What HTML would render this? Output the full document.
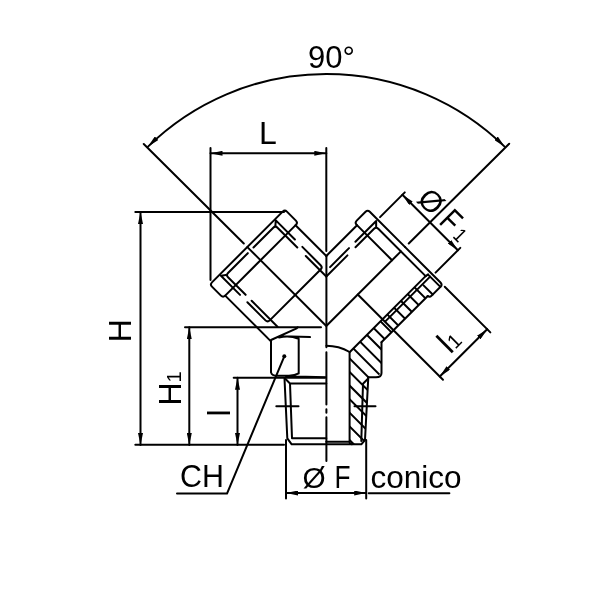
<!DOCTYPE html>
<html><head><meta charset="utf-8">
<style>
html,body{margin:0;padding:0;background:#fff;width:600px;height:600px;overflow:hidden}
svg{display:block;will-change:transform}
text{font-family:"Liberation Sans",sans-serif;fill:#000;stroke:none}
</style></head><body>
<svg width="600" height="600" viewBox="0 0 600 600">
<defs>
<marker id="ar" viewBox="0 0 12 5" refX="12" refY="2.5" markerWidth="12" markerHeight="5" markerUnits="userSpaceOnUse" orient="auto-start-reverse">
<path d="M12,2.5 L0,0 L0,5 Z" fill="#000"/>
</marker>
</defs>
<g fill="none" stroke="#000" stroke-width="2" stroke-linecap="round" stroke-linejoin="round">

<!-- 90 deg arc -->
<path d="M148,146.6 A255.2,255.2 0 0 1 504.6,146.6" marker-start="url(#ar)" marker-end="url(#ar)"/>
<!-- extension lines on arm axes -->
<path d="M143.75,144 L243.8,243.5 M247.4,247.1 L326.3,326 M509.2,143.7 L408.75,243.55 M400.9,251.4 L326.3,326"/>

<!-- L dimension -->
<line x1="210.5" y1="148" x2="210.5" y2="280"/>
<line x1="326.3" y1="148" x2="326.3" y2="251"/>
<line x1="210.5" y1="153.3" x2="326.3" y2="153.3" marker-start="url(#ar)" marker-end="url(#ar)"/>

<!-- H dimension -->
<line x1="135.3" y1="212" x2="284" y2="212"/>
<line x1="135.3" y1="444.8" x2="284" y2="444.8"/>
<line x1="140.5" y1="212" x2="140.5" y2="445" marker-start="url(#ar)" marker-end="url(#ar)"/>
<!-- H1 -->
<line x1="185" y1="327.3" x2="321" y2="327.3"/>
<line x1="189.3" y1="327.3" x2="189.3" y2="445" marker-start="url(#ar)" marker-end="url(#ar)"/>
<!-- l -->
<line x1="233.7" y1="377.7" x2="325" y2="377.7"/>
<line x1="237.5" y1="377.7" x2="237.5" y2="445" marker-start="url(#ar)" marker-end="url(#ar)"/>

<!-- OF dimension -->
<line x1="286" y1="440" x2="286" y2="498.5"/>
<line x1="366.2" y1="440" x2="366.2" y2="498.5"/>
<line x1="286" y1="493" x2="366.2" y2="493" marker-start="url(#ar)" marker-end="url(#ar)"/>
<line x1="368.7" y1="493.2" x2="449.4" y2="493.2"/>

<!-- CH leader -->
<polyline points="177,493.6 227,493.6 284.3,356.3"/>

<!-- LEFT ARM -->
<g transform="translate(326.3,326) rotate(225)">
  <rect x="93" y="-53" width="18.7" height="106" rx="3"/>
  <line x1="93" y1="49.5" x2="49.5" y2="49.5"/>
  <line x1="93" y1="-50" x2="29" y2="-50"/>
  <!-- thread lines -->
  <path d="M107,35 L110,38.5 L111,39 M110,39 L83.4,39 M72.9,39 L47,39 Q44,39 44,36 L44,-36 Q44,-39 47,-39 L72.6,-39 M83,-39 L110,-39 L107,-35"/>
  <path d="M35,35 L64,35 M76,35 L104,35 Q107,35 107,32 L107,4 M107,-4 L107,-32 Q107,-35 104,-35 L79.1,-35 M70.6,-35 L34,-35"/>
</g>

<!-- RIGHT ARM -->
<g transform="translate(326.3,326) rotate(-45)">
  <path d="M111.5,0 L111.5,-50 Q111.5,-53 108.5,-53 L96,-53 Q93,-53 93,-50 L93,0"/>
  <line x1="93" y1="-49.5" x2="49.5" y2="-49.5"/>
  <path d="M105.5,-35 L109.5,-39 L80.2,-39 M71.1,-39 L44.3,-39"/>
  <path d="M35,-35 L64.9,-35 M76.3,-35 L102.5,-35 Q105.5,-35 105.5,-32 L105.5,35"/>
  <!-- section half -->
  <path d="M111.5,0 L111.5,50 Q111.5,53 108.5,53 L96,53 Q93,53 93,50.5"/>
  <path d="M105.5,35 L108.5,35.5 L108.3,36 L108.3,53 M97.5,40 L97.5,53"/>
  <line x1="44.5" y1="0" x2="44.5" y2="120.5"/>
  <line x1="45" y1="38.5" x2="108.3" y2="38.5"/>
  <line x1="27.5" y1="50.5" x2="93" y2="50.5"/>
  <!-- OF1 extension lines -->
  <line x1="115" y1="-39" x2="150" y2="-39"/>
  <line x1="115" y1="39.5" x2="150" y2="39.5"/>
  <line x1="146.6" y1="-39" x2="146.6" y2="39.5" marker-start="url(#ar)" marker-end="url(#ar)"/>
  <!-- l1 ext -->
  <line x1="111.5" y1="56" x2="111.5" y2="120.5"/>
  <line x1="44.5" y1="116" x2="111.5" y2="116" marker-start="url(#ar)" marker-end="url(#ar)"/>
</g>
<g transform="translate(326.3,326) rotate(-45)">
  <text transform="translate(152,-25.6) rotate(90) scale(0.93)" font-size="32">Ø</text><text transform="translate(152,-25.6) rotate(90) translate(31.2,0) scale(0.82,1)" font-size="32">F<tspan font-size="20" dx="5">1</tspan></text>
  <text x="67.4" y="108" font-size="32">l<tspan font-size="20">1</tspan></text>
</g>

<!-- BOTTOM -->
<defs>
<clipPath id="hc1"><polygon points="349.6,352.0 382.9,318.9 393.8,329.9 381.5,342.2 381.5,373.0 376.0,377.3 368.3,377.3 365.0,440.0 361.3,444.0 349.6,444.0"/></clipPath>
<clipPath id="hc2"><polygon points="382.9,318.9 416.8,285.0 427.8,295.9 393.8,329.9"/></clipPath>
</defs>
<!-- centerline -->
<path d="M326.4,255.8 L326.4,347.3 M326.4,352.2 L326.4,404.5 M326.4,409.2 L326.4,412.7 M326.4,417.2 L326.4,461"/>
<!-- hex nut -->
<path d="M271,340 L271,372.5 M298.7,338.8 L298.7,373.4 M271,340 L296.7,328.3 L297.7,327.3 M281.5,336.3 L310,337.1 M279,337.5 Q289,334.8 298.7,338.8 M271,372.5 Q272,375.8 277,375.8 L289,375.8 Q295,375.6 298.7,373.4 M286,376.2 L325.7,377.3"/>
<!-- threaded left (exterior) -->
<path d="M284.5,378.5 L287.3,438.3 L291.7,444.3 L361.3,444.3 L365,440 L368.3,377.3"/>
<path d="M285.5,379 L290,383.5 L326.3,383.5 M290,383.5 L292,438.3 L326.3,438.3 M326.3,441.7 L349.6,441.7"/>
<path d="M367.7,379 L363,383.7 L361.3,441"/>
<line x1="276.3" y1="406.3" x2="298.5" y2="406.3"/>
<line x1="354.5" y1="406.3" x2="375.5" y2="406.3"/>
<!-- bore -->
<path d="M326.4,345.8 A47,47 0 0 1 349.6,352 L349.6,442 Q349.6,444.3 352,444.3"/>
<!-- section outline -->
<path d="M349.6,352.2 L425.6,276.1"/>
<path d="M381.5,342.2 L381.5,373 Q381.5,377.3 376,377.3 L368.3,377.3"/>
<path d="M146.0,250.0L356.0,460.0M159.6,250.0L369.6,460.0M173.2,250.0L383.2,460.0M186.8,250.0L396.8,460.0M200.4,250.0L410.4,460.0M214.0,250.0L424.0,460.0M227.6,250.0L437.6,460.0M241.2,250.0L451.2,460.0M254.8,250.0L464.8,460.0M268.4,250.0L478.4,460.0M282.0,250.0L492.0,460.0M295.6,250.0L505.6,460.0M309.2,250.0L519.2,460.0M322.8,250.0L532.8,460.0M336.4,250.0L546.4,460.0M350.0,250.0L560.0,460.0M363.6,250.0L573.6,460.0M377.2,250.0L587.2,460.0M390.8,250.0L600.8,460.0M404.4,250.0L614.4,460.0" clip-path="url(#hc1)"/>
<path d="M146.0,250.0L356.0,460.0M159.6,250.0L369.6,460.0M173.2,250.0L383.2,460.0M186.8,250.0L396.8,460.0M200.4,250.0L410.4,460.0M214.0,250.0L424.0,460.0M227.6,250.0L437.6,460.0M241.2,250.0L451.2,460.0M254.8,250.0L464.8,460.0M268.4,250.0L478.4,460.0M282.0,250.0L492.0,460.0M295.6,250.0L505.6,460.0M309.2,250.0L519.2,460.0M322.8,250.0L532.8,460.0M336.4,250.0L546.4,460.0M350.0,250.0L560.0,460.0M363.6,250.0L573.6,460.0M377.2,250.0L587.2,460.0M390.8,250.0L600.8,460.0M404.4,250.0L614.4,460.0" clip-path="url(#hc2)"/>
</g>

<!-- dot -->
<circle cx="284.3" cy="356.3" r="2" fill="#000"/>

<!-- TEXT -->
<text transform="translate(308,67.5) scale(0.97,1)" font-size="32">90°</text>
<text x="259" y="143.5" font-size="32">L</text>
<text transform="translate(180,486.5) scale(0.95,1)" font-size="32">CH</text>
<text transform="translate(302.5,487.8) scale(0.93)" font-size="32">Ø</text><text transform="translate(334.5,487.5) scale(0.82,1)" font-size="32">F</text>
<text x="370.5" y="487.5" font-size="31.5">conico</text>
<text transform="translate(131,330.8) rotate(-90)" font-size="32" text-anchor="middle">H</text>
<g transform="translate(181,388.5) rotate(-90)"><text font-size="32" text-anchor="middle">H<tspan font-size="20">1</tspan></text></g>
<text transform="translate(229.5,413) rotate(-90)" font-size="32" text-anchor="middle">l</text>
</svg>
</body></html>
